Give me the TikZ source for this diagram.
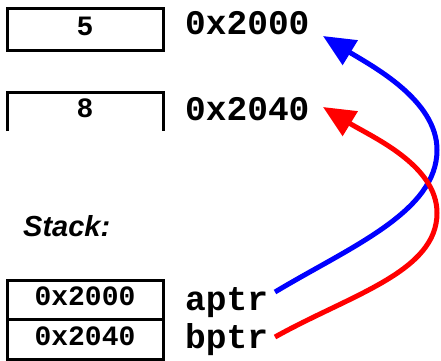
\documentclass[tikz,border=0pt]{standalone}
\usepackage{fontspec}
\setmainfont{Liberation Sans}
\newfontfamily\cour{Liberation Mono}
\usetikzlibrary{arrows.meta}
\begin{document}
\begin{tikzpicture}[x=1pt,y=-1pt,
  cell/.style={draw, line width=3pt, minimum width=156pt, minimum height=40pt, inner sep=0pt,
    font=\cour\bfseries\fontsize{28}{30}\selectfont, text height=16pt, text depth=4pt},
  lbl/.style={anchor=base west, inner sep=0pt, font=\cour\bfseries\fontsize{34.5}{36}\selectfont},
  ptr/.style={line width=5pt, -{Triangle[length=32pt,width=28pt]}}]
\useasboundingbox (0,0) rectangle (441,360);
% heap cells
\node[cell, minimum height=42pt] (c1) at (85,29) {5};
\draw[line width=3pt] (7,131) -- (7,92) -- (163,92) -- (163,131);
\node[inner sep=0pt, font=\cour\bfseries\fontsize{28}{30}\selectfont] (c2) at (85,108) {8};
\node[lbl] (a1) at (185,34) {0x2000};
\node[lbl] (a2) at (185,120) {0x2040};
% stack
\node[anchor=base west, inner sep=0pt, font=\bfseries\itshape\fontsize{29}{31}\selectfont] (stk) at (23,236) {Stack:};
\node[cell, minimum height=39pt] (s1) at (85,299.5) {0x2000};
\node[cell] (s2) at (85,339) {0x2040};
\node[lbl] (ap) at (185,310) {aptr};
\node[lbl] (bp) at (185,348) {bptr};
% arrow ends
\coordinate (ta) at (323,36);
\coordinate (tb) at (323,107);
\coordinate (sa) at (275,292);
\coordinate (sb) at (275,337);
\draw[ptr, blue] (sa) .. controls (350,247) and (437,212) .. (437,150)
   .. controls (437,100) and (372,66) .. (ta);
\draw[ptr, red] (sb) .. controls (350,295) and (437,272) .. (437,213)
   .. controls (437,165) and (372,137) .. (tb);
\end{tikzpicture}
\end{document}
